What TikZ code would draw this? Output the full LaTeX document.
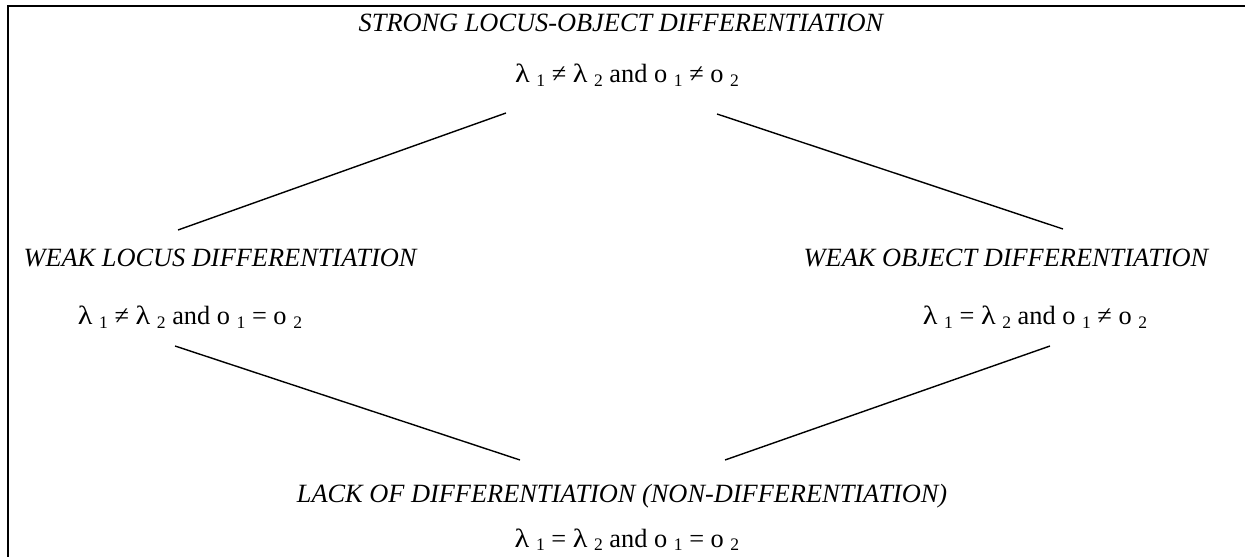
\documentclass[tikz,border=0pt]{standalone}
\usepackage{fontspec}
\setmainfont{Liberation Serif}
\newcommand{\lsub}[1]{\raisebox{-0.3ex}{\fontsize{10}{11}\selectfont #1}}
\newcommand{\llam}{\scalebox{1.15}[1]{λ}}
\begin{document}
\begin{tikzpicture}[x=0.02cm, y=-0.02cm, line width=0.8pt]
      \useasboundingbox (0,0) rectangle (1245,557);
      \draw[line width=1.15pt] (8,557) -- (8,6) -- (1245,6);

      \tikzstyle{every node} = [inner sep = 0pt, anchor = base, font = \fontsize{15}{18}\selectfont]
      \node(strong) at (621,32) {\itshape STRONG LOCUS-OBJECT DIFFERENTIATION};
      \node(strongf) at (627,83) {\llam{} \lsub{1} ≠ \llam{} \lsub{2} and o \lsub{1} ≠ o \lsub{2}};
      \node(locus) at (220,267) {\itshape WEAK LOCUS DIFFERENTIATION};
      \node(locusf) at (190,325) {\llam{} \lsub{1} ≠ \llam{} \lsub{2} and o \lsub{1} = o \lsub{2}};
      \node(object) at (1006,267) {\itshape WEAK OBJECT DIFFERENTIATION};
      \node(objectf) at (1035,325) {\llam{} \lsub{1} = \llam{} \lsub{2} and o \lsub{1} ≠ o \lsub{2}};
      \node(lack) at (622,502) {\itshape LACK OF DIFFERENTIATION (NON-DIFFERENTIATION)};
      \node(lackf) at (627,547) {\llam{} \lsub{1} = \llam{} \lsub{2} and o \lsub{1} = o \lsub{2}};

      % line ends
      \coordinate(s1) at (506,113);
      \coordinate(s2) at (717,114);
      \coordinate(l1) at (178,230);
      \coordinate(l2) at (175,346);
      \coordinate(o1) at (1063,229);
      \coordinate(o2) at (1050,346);
      \coordinate(n1) at (520,460);
      \coordinate(n2) at (725,460);

      \path (s1) edge (l1);
      \path (s2) edge (o1);
      \path (l2) edge (n1);
      \path (o2) edge (n2);
    \end{tikzpicture}
\end{document}
